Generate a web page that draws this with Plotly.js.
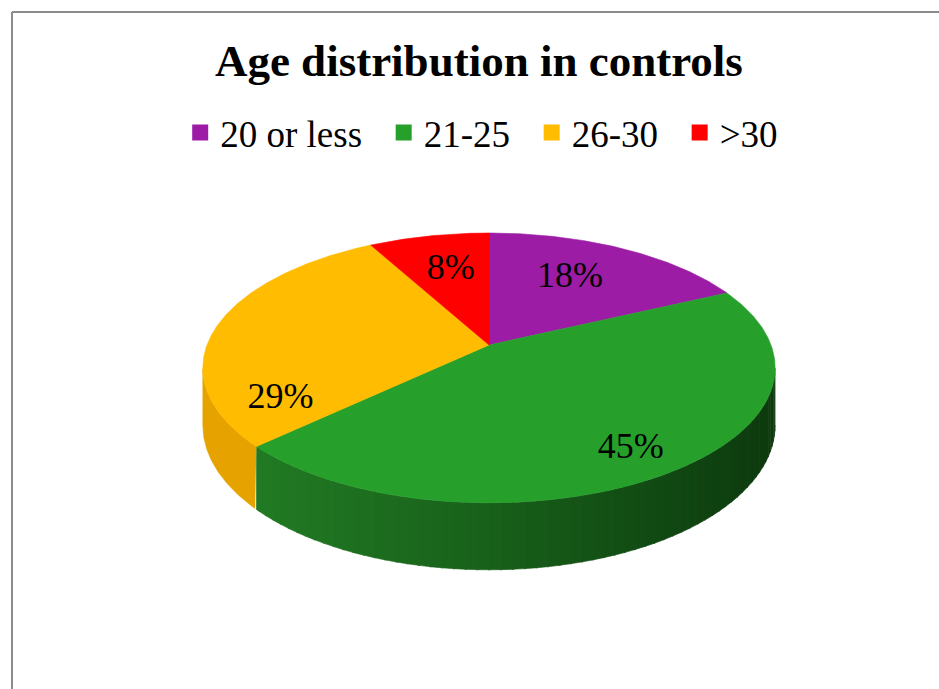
<!DOCTYPE html>
<html>
<head>
<meta charset="utf-8">
<script src="https://cdn.plot.ly/plotly-3.0.1.min.js"></script>
<style>
  html, body { margin: 0; padding: 0; background: #ffffff; }
  #chart { width: 939px; height: 689px; }
</style>
</head>
<body>
<div id="chart"></div>
<script>
// Age groups and their share (%) among controls
const ageGroups = ['20 or less', '21-25', '26-30', '>30'];
const shares = [18, 45, 29, 8];

// Colours of the top faces, the rims and the legend keys
const topColors = ['#9C1CA6', '#26A02B', '#FFBC00', '#FF0000'];
const rimColors = ['#7A1483', null, '#E6A300', '#C80000'];
// green rim shades from lit (left) to shadowed (right)
const greenRimStops = [[35, 128, 37], [24, 96, 26], [13, 58, 14]];

// Label placement per slice: [angle shift in degrees, radius fraction]
const labelPlacement = [[-3, 0.64], [2, 0.83], [-38, 0.79], [1, 0.65]];

const SERIF = 'Liberation Serif';
const LEGEND_PAD = '\u00a0\u2009';   // extra room after each legend entry

// Perspective disc geometry (drawing units = pixels of the plot area)
const W = 939, H = 689;
const CX = 489, CY = 345;     // projected centre of the disc
const A = 282, B = 131;       // horizontal / depth radii
const K = 0.17;               // perspective strength
const DEPTH = 55.6;           // thickness of the disc

const rad = d => d * Math.PI / 180;

function project(thetaDeg, r, drop) {
  const t = rad(thetaDeg);
  const c = Math.cos(t), s = Math.sin(t);
  const f = 1 / (1 + K * r * c);
  return [CX + A * r * s * f, CY - B * r * c * f + (drop || 0) * f];
}

function rimShade(t) {
  const seg = t < 0.5 ? 0 : 1;
  const u = Math.max(0, Math.min(1, seg === 0 ? t / 0.5 : (t - 0.5) / 0.5));
  const a = greenRimStops[seg], b = greenRimStops[seg + 1];
  const c = a.map((v, i) => Math.round(v + (b[i] - v) * u));
  return 'rgb(' + c.join(',') + ')';
}

// slice boundaries, clockwise from twelve o'clock
const total = shares.reduce((a, b) => a + b, 0);
const bounds = [];
let acc = 0;
shares.forEach(v => {
  const start = acc / total * 360;
  acc += v;
  bounds.push([start, acc / total * 360]);
});

// visible front rim lies between the two silhouette angles
const silA = Math.acos(-K) * 180 / Math.PI;   // ~99.8
const silB = 360 - silA;                      // ~260.2

const traces = [];

function polyTrace(xs, ys, color) {
  return {
    type: 'scatter', mode: 'lines', x: xs, y: ys,
    fill: 'toself', fillcolor: color,
    line: { color: color, width: 0.6 },
    hoverinfo: 'skip', showlegend: false
  };
}

// rims (drawn first so the top faces sit above them)
bounds.forEach(([a0, a1], i) => {
  const lo = Math.max(a0, silA), hi = Math.min(a1, silB);
  if (hi <= lo) return;
  if (rimColors[i]) {
    const xs = [], ys = [];
    for (let t = lo; t <= hi + 1e-9; t += 0.5) { const p = project(t, 1); xs.push(p[0]); ys.push(p[1]); }
    for (let t = hi; t >= lo - 1e-9; t -= 0.5) { const p = project(t, 1, DEPTH); xs.push(p[0]); ys.push(p[1]); }
    traces.push(polyTrace(xs, ys, rimColors[i]));
  } else {
    // shaded rim built from narrow bands, lighter on the left
    const step = 2;
    for (let t = lo; t < hi; t += step) {
      const t2 = Math.min(hi, t + step + 0.3);
      const p1 = project(t, 1), p2 = project(t2, 1);
      const q1 = project(t, 1, DEPTH), q2 = project(t2, 1, DEPTH);
      const mx = (p1[0] + p2[0]) / 2;
      const col = rimShade((mx - (CX - A)) / (2 * A));
      traces.push(polyTrace([p1[0], p2[0], q2[0], q1[0]], [p1[1], p2[1], q2[1], q1[1]], col));
    }
  }
});

// top faces
bounds.forEach(([a0, a1], i) => {
  const xs = [CX], ys = [CY];
  for (let t = a0; t <= a1 + 1e-9; t += 0.5) { const p = project(t, 1); xs.push(p[0]); ys.push(p[1]); }
  const pe = project(a1, 1); xs.push(pe[0]); ys.push(pe[1]);
  xs.push(CX); ys.push(CY);
  traces.push(polyTrace(xs, ys, topColors[i]));
});

// percentage labels
const lx = [], ly = [], lt = [];
bounds.forEach(([a0, a1], i) => {
  const mid = (a0 + a1) / 2 + labelPlacement[i][0];
  const p = project(mid, labelPlacement[i][1]);
  lx.push(p[0]); ly.push(p[1]); lt.push(shares[i] + '%');
});
traces.push({
  type: 'scatter', mode: 'text', x: lx, y: ly, text: lt,
  textposition: 'middle center',
  textfont: { family: SERIF, size: 36, color: '#000000' },
  hoverinfo: 'skip', showlegend: false
});

// legend keys
ageGroups.forEach((g, i) => {
  traces.push({
    type: 'scatter', mode: 'markers', x: [null], y: [null],
    name: i < ageGroups.length - 1 ? g + LEGEND_PAD : g,
    marker: { symbol: 'square', size: 18, color: topColors[i] },
    showlegend: true, hoverinfo: 'skip'
  });
});

const layout = {
  width: W, height: H,
  margin: { l: 0, r: 0, t: 0, b: 0 },
  font: { family: SERIF, color: '#000000' },
  paper_bgcolor: '#ffffff', plot_bgcolor: '#ffffff',
  title: {
    text: '<b>Age distribution in controls</b>',
    font: { family: SERIF, size: 45, color: '#000000' },
    x: 0.51, xanchor: 'center', y: 1 - 60 / H, yanchor: 'middle'
  },
  showlegend: true,
  legend: {
    orientation: 'h', x: 0.513, xanchor: 'center', y: 1 - 133 / H, yanchor: 'middle',
    font: { family: SERIF, size: 37, color: '#000000' },
    bgcolor: 'rgba(0,0,0,0)', itemclick: false, itemdoubleclick: false
  },
  xaxis: { range: [0, W], visible: false, fixedrange: true },
  yaxis: { range: [H, 0], visible: false, fixedrange: true },
  shapes: [
    { type: 'line', xref: 'paper', yref: 'paper', x0: 12 / W, x1: 12 / W, y0: 0, y1: 1 - 12 / H,
      line: { color: '#8C8C8C', width: 2 } },
    { type: 'line', xref: 'paper', yref: 'paper', x0: 12 / W, x1: 1, y0: 1 - 12 / H, y1: 1 - 12 / H,
      line: { color: '#8C8C8C', width: 2 } }
  ]
};

Plotly.newPlot('chart', traces, layout, { displayModeBar: false, staticPlot: true });
</script>
</body>
</html>
